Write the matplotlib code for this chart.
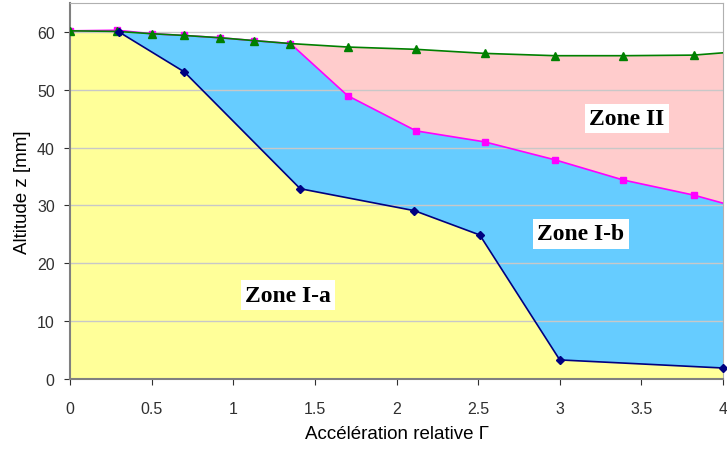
import numpy as np
import matplotlib.pyplot as plt

# Serie limite zone I-a / I-b (bleu marine)
x_a = [0.3, 0.7, 1.41, 2.11, 2.51, 3.0, 4.0]
z_a = [60.0, 53.1, 32.9, 29.1, 24.9, 3.3, 1.9]
# Serie limite zone I-b / II (magenta)
x_b = [0.0, 0.29, 0.5, 0.7, 0.92, 1.13, 1.35, 1.7, 2.12, 2.54, 2.97, 3.39, 3.82, 4.0]
z_b = [60.2, 60.3, 59.7, 59.4, 59.0, 58.5, 58.0, 49.0, 42.9, 41.0, 37.9, 34.4, 31.8, 30.4]
# Surface libre (vert)
x_s = [0.0, 0.29, 0.5, 0.7, 0.92, 1.13, 1.35, 1.7, 2.12, 2.54, 2.97, 3.39, 3.82, 4.0]
z_s = [60.2, 60.1, 59.7, 59.4, 59.0, 58.5, 58.0, 57.4, 57.0, 56.3, 55.9, 55.9, 56.0, 56.4]

zones = ['Zone I-a', 'Zone I-b', 'Zone II']
zone_pos = [(1.335, 14.5), (3.13, 25.1), (3.41, 45.0)]

fig = plt.figure(figsize=(7.27, 4.52), dpi=100)
ax = fig.add_axes([0.0963, 0.1593, 0.8982, 0.8317])

# remplissages
xa = np.array(x_a); za = np.array(z_a)
xb = np.array(x_b); zb = np.array(z_b)
xs = np.array(x_s); zs = np.array(z_s)
ax.fill(np.r_[xb[0], xa, xa[-1], xb[0]], np.r_[zb[0], za, 0, 0], color='#FFFF99', lw=0, zorder=1)
ax.fill(np.r_[xb, xa[::-1]], np.r_[zb, za[::-1]], color='#66CCFF', lw=0, zorder=1)
ax.fill(np.r_[xs, xb[::-1]], np.r_[zs, zb[::-1]], color='#FFCCCC', lw=0, zorder=1)

for yv in range(10, 70, 10):
    ax.axhline(yv, color='#C8C8C8', lw=1, zorder=2)

ax.plot(xb, zb, color='#FF00FF', lw=1.2, marker='s', ms=5, markevery=list(range(len(xb) - 1)), zorder=3)
ax.plot(xs, zs, color='#008000', lw=1.2, marker='^', ms=6, markevery=list(range(len(xs) - 1)), zorder=4)
ax.plot(xa, za, color='#000080', lw=1.2, marker='D', ms=4.5, zorder=5, clip_on=False)

for txt, (px, py) in zip(zones, zone_pos):
    ax.text(px, py, txt, ha='center', va='center', fontsize=17, fontweight='bold',
            family='Liberation Serif', zorder=6,
            bbox=dict(facecolor='white', edgecolor='none', pad=3))

ax.set_xlim(0, 4)
ax.set_ylim(0, 65)
ax.set_xticks(np.arange(0, 4.01, 0.5))
ax.set_xticklabels(['0', '0.5', '1', '1.5', '2', '2.5', '3', '3.5', '4'])
ax.set_yticks(range(0, 70, 10))
ax.tick_params(direction='out', colors='#303030', labelsize=11.5, length=4, pad=7)
ax.tick_params(axis='x', pad=12)
for s in ['top', 'right']:
    ax.spines[s].set_color('#B0B0B0')
for s in ['left', 'bottom']:
    ax.spines[s].set_color('#808080')
    ax.spines[s].set_linewidth(1.5)
for lab in ax.get_xticklabels() + ax.get_yticklabels():
    lab.set_family('Liberation Sans')
ax.set_xlabel(u'Accélération relative Γ', family='Liberation Sans', fontsize=13.5, labelpad=6)
ax.set_ylabel(u'Altitude z [mm]', family='Liberation Sans', fontsize=13.5, labelpad=4)

fig.savefig('out.png', dpi=100)
